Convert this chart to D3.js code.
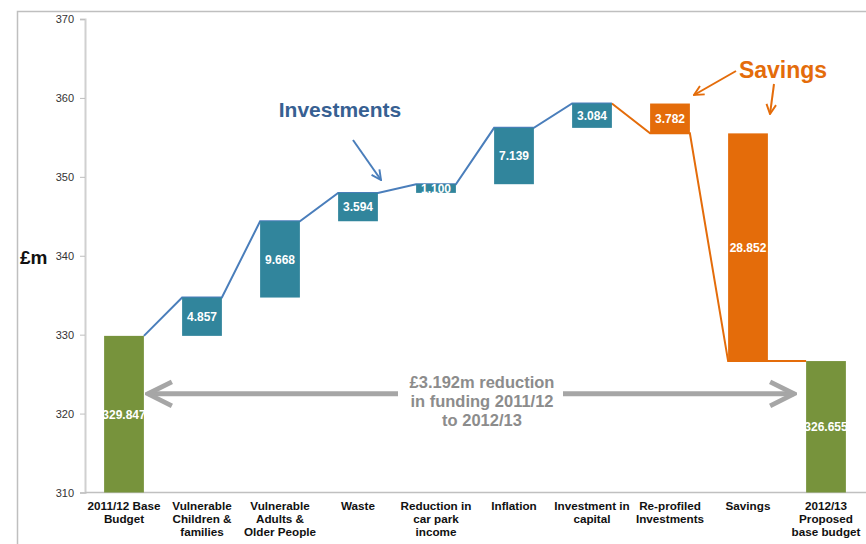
<!DOCTYPE html>
<html>
<head>
<meta charset="utf-8">
<script src="https://cdn.jsdelivr.net/npm/d3@7"></script>
<style>
  body { margin: 0; background: #fff; }
  svg { display: block; font-family: "Liberation Sans", Arial, sans-serif; }
</style>
</head>
<body>
<div id="chart"></div>
<script>
// waterfall data
const categories = [
  ["2011/12 Base", "Budget"],
  ["Vulnerable", "Children &", "families"],
  ["Vulnerable", "Adults &", "Older People"],
  ["Waste"],
  ["Reduction in", "car park", "income"],
  ["Inflation"],
  ["Investment in", "capital"],
  ["Re-profiled", "Investments"],
  ["Savings"],
  ["2012/13", "Proposed", "base budget"]
];
const values = [329.847, 4.857, 9.668, 3.594, 1.100, 7.139, 3.084, -3.782, -28.852, 326.655];
const kinds = ["total", "invest", "invest", "invest", "invest", "invest", "invest", "saving", "saving", "total"];
const yTicks = [310, 320, 330, 340, 350, 360, 370];

const W = 866, H = 544;
const colors = { total: "#77933c", invest: "#31859c", saving: "#e46c0a" };

const svg = d3.select("#chart").append("svg")
  .attr("width", W).attr("height", H);

// outer frame
svg.append("rect")
  .attr("x", 17.5).attr("y", 11.5)
  .attr("width", 900).attr("height", 600)
  .attr("fill", "none").attr("stroke", "#bfbfbf").attr("stroke-width", 1.5);

const x = d3.scaleBand()
  .domain(d3.range(categories.length))
  .range([85, 865])
  .paddingInner(0.49)
  .paddingOuter(0.245);

const y = d3.scaleLinear().domain([310, 370]).range([492.5, 19]);

// running totals
let run = 0;
const bars = values.map((v, i) => {
  let start, end;
  if (kinds[i] === "total") { start = 310; end = v; run = v; }
  else { start = run; end = run + v; run = end; }
  return { i, v, start, end, kind: kinds[i] };
});

// y axis
const yAxis = svg.append("g")
  .attr("transform", "translate(85,0)")
  .call(d3.axisLeft(y).tickValues(yTicks).tickSize(5).tickPadding(6));
yAxis.select(".domain").attr("stroke", "#d0d0d0").attr("stroke-width", 2);
yAxis.selectAll(".tick line").attr("stroke", "#bfbfbf");
yAxis.selectAll(".tick text").attr("font-size", 11).attr("fill", "#333");

// x axis line
svg.append("line")
  .attr("x1", 85).attr("x2", 866)
  .attr("y1", y(310)).attr("y2", y(310))
  .attr("stroke", "#c0c0c0").attr("stroke-width", 1.5);

svg.append("text")
  .attr("x", 20).attr("y", 264)
  .attr("font-size", 19).attr("font-weight", "bold")
  .attr("fill", "#111")
  .text("£m");

// category labels
const catG = svg.append("g");
categories.forEach((lines, i) => {
  const t = catG.append("text")
    .attr("x", x(i) + x.bandwidth() / 2)
    .attr("y", 510)
    .attr("text-anchor", "middle")
    .attr("font-size", 11.7).attr("font-weight", "bold")
    .attr("fill", "#111");
  lines.forEach((l, k) => {
    t.append("tspan").attr("x", x(i) + x.bandwidth() / 2)
      .attr("dy", k === 0 ? 0 : 13).text(l);
  });
});

// connector line through running totals
const pts = [];
bars.forEach(b => {
  if (b.i === 0) { pts.push([x(b.i) + x.bandwidth(), b.end, "invest"]); return; }
  if (b.i === bars.length - 1) { pts.push([x(b.i), b.end, "saving"]); return; }
  pts.push([x(b.i), b.end, b.kind]);
  pts.push([x(b.i) + x.bandwidth(), b.end, b.kind]);
});
const line = d3.line().x(d => d[0]).y(d => y(d[1]));
const splitAt = pts.findIndex(p => p[2] === "saving");
svg.append("path")
  .attr("d", line(pts.slice(0, splitAt)))
  .attr("fill", "none").attr("stroke", "#4a7ebb").attr("stroke-width", 2);
svg.append("path")
  .attr("d", line(pts.slice(splitAt - 1)))
  .attr("fill", "none").attr("stroke", "#e46c0a").attr("stroke-width", 2);

// bars
svg.append("g").selectAll("rect")
  .data(bars).join("rect")
  .attr("x", d => x(d.i))
  .attr("width", x.bandwidth())
  .attr("y", d => y(Math.max(d.start, d.end)))
  .attr("height", d => Math.abs(y(d.start) - y(d.end)))
  .attr("fill", d => colors[d.kind]);

// value labels
svg.append("g").selectAll("text")
  .data(bars).join("text")
  .attr("x", d => x(d.i) + x.bandwidth() / 2)
  .attr("y", d => y((d.start + d.end) / 2))
  .attr("dy", "0.36em")
  .attr("text-anchor", "middle")
  .attr("font-size", 12).attr("font-weight", "bold")
  .attr("fill", "#fff")
  .text(d => Math.abs(d.v).toFixed(3));

// arrow markers
const defs = svg.append("defs");
function marker(id, color, size) {
  defs.append("marker")
    .attr("id", id).attr("viewBox", "0 0 10 10")
    .attr("refX", 9).attr("refY", 5)
    .attr("markerWidth", size).attr("markerHeight", size)
    .attr("markerUnits", "userSpaceOnUse")
    .attr("orient", "auto-start-reverse")
    .append("path").attr("d", "M1,1 L9,5 L1,9")
    .attr("fill", "none").attr("stroke", color).attr("stroke-width", 1.6);
}
marker("arrBlue", "#4a7ebb", 12);
marker("arrOrange", "#e46c0a", 12);
marker("arrGray", "#a6a6a6", 30);

// Investments annotation
svg.append("text")
  .attr("x", 340).attr("y", 117)
  .attr("text-anchor", "middle")
  .attr("font-size", 21).attr("font-weight", "bold")
  .attr("fill", "#376092")
  .text("Investments");
svg.append("line")
  .attr("x1", 353).attr("y1", 140).attr("x2", 381).attr("y2", 180)
  .attr("stroke", "#4a7ebb").attr("stroke-width", 2)
  .attr("marker-end", "url(#arrBlue)");

// Savings annotation
svg.append("text")
  .attr("x", 783).attr("y", 78)
  .attr("text-anchor", "middle")
  .attr("font-size", 23).attr("font-weight", "bold")
  .attr("fill", "#e46c0a")
  .text("Savings");
svg.append("line")
  .attr("x1", 736).attr("y1", 71).attr("x2", 694).attr("y2", 95)
  .attr("stroke", "#e46c0a").attr("stroke-width", 2)
  .attr("marker-end", "url(#arrOrange)");
svg.append("line")
  .attr("x1", 774).attr("y1", 84).attr("x2", 770).attr("y2", 114)
  .attr("stroke", "#e46c0a").attr("stroke-width", 2)
  .attr("marker-end", "url(#arrOrange)");

// funding reduction arrow
const ay = y(322.5);
const ax0 = x(0) + x.bandwidth() + 4, ax1 = x(9) - 12;
svg.append("line")
  .attr("x1", 398).attr("y1", ay).attr("x2", ax0).attr("y2", ay)
  .attr("stroke", "#a6a6a6").attr("stroke-width", 5)
  .attr("marker-end", "url(#arrGray)");
svg.append("line")
  .attr("x1", 563).attr("y1", ay).attr("x2", ax1).attr("y2", ay)
  .attr("stroke", "#a6a6a6").attr("stroke-width", 5)
  .attr("marker-end", "url(#arrGray)");
const note = svg.append("text")
  .attr("x", 482).attr("y", 388)
  .attr("text-anchor", "middle")
  .attr("font-size", 16.5).attr("font-weight", "bold")
  .attr("fill", "#8c8c8c");
["£3.192m reduction", "in funding 2011/12", "to 2012/13"].forEach((l, k) => {
  note.append("tspan").attr("x", 482).attr("dy", k === 0 ? 0 : 19).text(l);
});
</script>
</body>
</html>
